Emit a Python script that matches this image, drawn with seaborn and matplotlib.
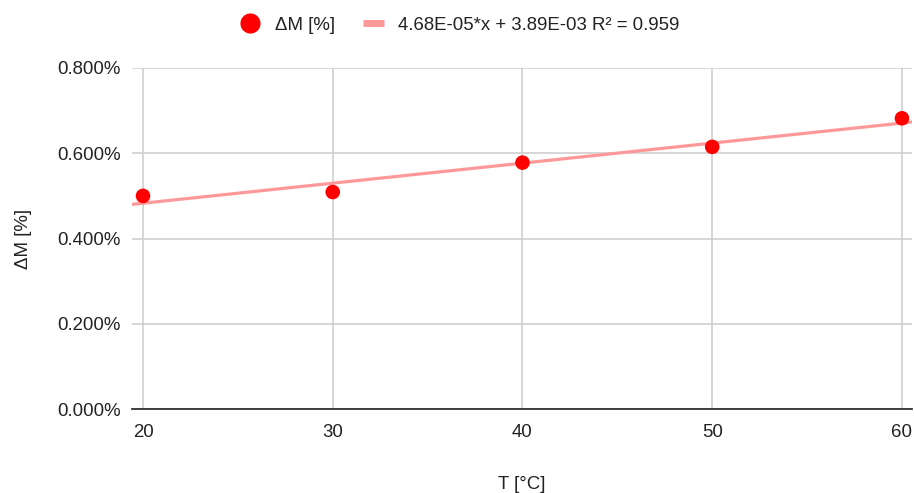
import numpy as np
import pandas as pd
import matplotlib
matplotlib.use("Agg")
import matplotlib.pyplot as plt
from matplotlib.lines import Line2D
import seaborn as sns
from matplotlib.ticker import PercentFormatter

# values (mass change as fraction)
temps = [20, 30, 40, 50, 60]
delta_m = [0.00500, 0.00509, 0.00578, 0.00615, 0.00682]
x_ticks = [20, 30, 40, 50, 60]
y_ticks = [0.0, 0.002, 0.004, 0.006, 0.008]
series_label = "ΔM [%]"
trend_label = "4.68E-05*x + 3.89E-03 R² = 0.959"

df = pd.DataFrame({"T": temps, "dM": delta_m})

sns.set_style("white")
plt.rcParams["font.family"] = ["Liberation Sans", "DejaVu Sans"]
text_color = "#222222"
trend_color = "#ff9999"

fig = plt.figure(figsize=(9.14, 4.93), dpi=100)
ax = fig.add_axes([132 / 914, 1 - 409 / 493, 780 / 914, 341 / 493])

# linear trendline over the whole visible x range
xmin, xmax = 19.42, 60.53
slope, intercept = np.polyfit(df["T"], df["dM"], 1)
trend = pd.DataFrame({"T": [xmin, xmax]})
trend["dM"] = slope * trend["T"] + intercept

sns.lineplot(data=trend, x="T", y="dM", ax=ax, color=trend_color, lw=2.3,
             legend=False, zorder=3)
sns.scatterplot(data=df, x="T", y="dM", ax=ax, color="#ff0000", s=110,
                edgecolor="none", legend=False, zorder=4)

ax.set_xlim(xmin, xmax)
ax.set_ylim(0, 0.008)
ax.set_xticks(x_ticks)
ax.set_yticks(y_ticks)
ax.yaxis.set_major_formatter(PercentFormatter(1.0, decimals=3))
ax.grid(True, color="#cccccc", lw=1.1)
ax.set_axisbelow(True)
for side in ["top", "right", "left"]:
    ax.spines[side].set_visible(False)
ax.spines["bottom"].set_color("#333333")
ax.spines["bottom"].set_linewidth(1.3)
ax.spines["bottom"].set_zorder(2)
ax.tick_params(axis="both", length=0, labelsize=13.4, colors=text_color)
ax.tick_params(axis="x", pad=11)
ax.tick_params(axis="y", pad=8)

ax.set_xlabel("T [°C]", fontsize=13.4, color=text_color, labelpad=25)
ax.set_ylabel("ΔM [%]", fontsize=13.4, color=text_color, labelpad=18)

# legend handles styled like the sheet chart (big dot, short thick bar)
dot = Line2D([], [], ls="none", marker="o", markersize=14.5,
             markerfacecolor="#ff0000", markeredgecolor="none")
bar = Line2D([], [], color=trend_color, lw=5, solid_capstyle="butt")
fig.legend([dot, bar], [series_label, trend_label],
           loc="center", bbox_to_anchor=(0.503, 1 - 25 / 493), ncol=2,
           frameon=False, fontsize=13.4, handlelength=1.1,
           handletextpad=0.8, columnspacing=1.5, labelcolor=text_color)

fig.savefig("out.png", dpi=100)
